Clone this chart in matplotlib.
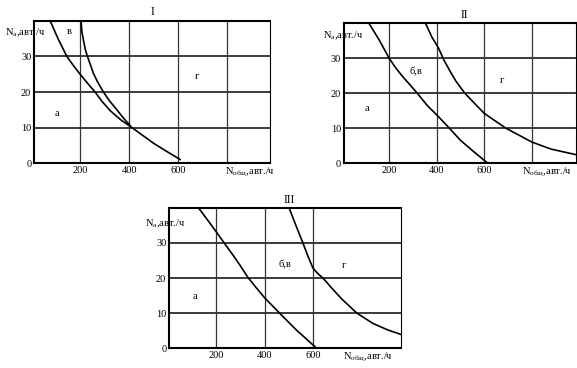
import numpy as np
import matplotlib
matplotlib.use('Agg')
import matplotlib.pyplot as plt

plt.rcParams['font.family'] = ['Liberation Serif', 'DejaVu Serif']
plt.rcParams['mathtext.fontset'] = 'custom'
plt.rcParams['mathtext.rm'] = 'Liberation Serif'

# grid / tick values
x_ticks = [200, 400, 600]
y_ticks = [0, 10, 20, 30]
h_grid = [10, 20, 30]
v_grid_1 = [200, 400, 600, 800]
v_grid_2 = [200, 400, 600, 800]
v_grid_3 = [200, 400, 600]

# panel I
p1_low_x = [78, 110, 146, 172, 200, 230, 261, 290, 322, 365, 411, 455, 499, 555, 608]
p1_low_y = [40, 35, 30, 27.5, 25, 22.5, 20, 17.3, 14.8, 12.2, 10, 7.8, 5.6, 3.2, 1]
p1_up_x = [204, 207, 214, 221, 230, 254, 270, 295, 320, 350, 375, 405]
p1_up_y = [40, 37, 34.5, 32, 30, 25.3, 23, 20, 17.5, 15, 12.8, 10.5]

# panel II
p2_low_x = [115, 160, 200, 230, 260, 290, 318, 360, 407, 453, 500, 560, 614]
p2_low_y = [40, 35, 30, 27, 24.5, 22.2, 20, 16.5, 13.3, 10, 6.5, 3, 0]
p2_up_x = [353, 380, 407, 430, 456, 480, 518, 560, 600, 690, 800, 880, 985]
p2_up_y = [40, 36, 33, 29.5, 26.3, 23.5, 20, 17, 14.2, 10, 6, 4, 2.4]

# panel III
p3_low_x = [127, 165, 200, 230, 270, 300, 330, 365, 400, 465, 530, 575, 615]
p3_low_y = [40, 36.5, 33.2, 30.3, 26.5, 23.5, 20.3, 17.3, 14.4, 9.8, 5.3, 2.5, 0]
p3_up_x = [502, 530, 559, 580, 600, 620, 642, 680, 720, 782, 850, 910, 969]
p3_up_y = [40, 35, 30, 26.2, 22.9, 21.3, 20, 17, 14, 10, 7, 5.2, 3.8]

fig = plt.figure(figsize=(5.77, 3.68), dpi=100)

def panel(rect, xlim, vgrid, curves, labels, title, title_x, xlab_x, ylab_x, ylab_y):
    ax = fig.add_axes(rect)
    ax.set_xlim(*xlim)
    ax.set_ylim(0, 40)
    for g in h_grid:
        ax.axhline(g, color='#1a1a1a', lw=1.2, zorder=1)
    for g in vgrid:
        ax.axvline(g, color='#333333', lw=0.9, zorder=1)
    for cx, cy in curves:
        ax.plot(cx, cy, color='black', lw=1.2, zorder=2, solid_joinstyle='round')
    for txt, (lx, ly) in labels.items():
        ax.text(lx, ly, txt, fontsize=7.5, ha='center', va='center')
    ax.set_xticks(x_ticks)
    ax.set_yticks(y_ticks)
    ax.tick_params(length=0, labelsize=7.5, pad=2)
    for s in ['left', 'bottom', 'top']:
        ax.spines[s].set_linewidth(1.5)
    ax.spines['right'].set_linewidth(0.8)
    ax.text(title_x, 1.06, title, transform=ax.transAxes, fontsize=8.5,
            ha='center', va='center')
    ax.text(xlab_x, -0.015, r'N$_{\mathregular{общ}}$,авт./ч', transform=ax.transAxes,
            fontsize=7.5, ha='left', va='top')
    ax.text(ylab_x, ylab_y, r'N$_{\mathregular{а}}$,авт./ч', transform=ax.transAxes,
            fontsize=7.5, ha='left', va='center')
    return ax

panel([0.059, 0.557, 0.409, 0.386], (12, 975), v_grid_1,
      [(p1_low_x, p1_low_y), (p1_up_x, p1_up_y)],
      {'в': (155, 37), 'г': (677, 24.5), 'а': (106, 14)},
      'I', 0.5, 0.81, -0.123, 0.915)

panel([0.596, 0.557, 0.402, 0.380], (10, 985), v_grid_2,
      [(p2_low_x, p2_low_y), (p2_up_x, p2_up_y)],
      {'б,в': (311, 26), 'г': (675, 23.7), 'а': (105, 15.6)},
      'II', 0.52, 0.767, -0.09, 0.914)

panel([0.293, 0.054, 0.402, 0.381], (5, 965), v_grid_3,
      [(p3_low_x, p3_low_y), (p3_up_x, p3_up_y)],
      {'б,в': (486, 23.7), 'г': (727, 23.7), 'а': (113, 14.7)},
      'III', 0.52, 0.75, -0.103, 0.89)

fig.savefig('out.png', dpi=100)
